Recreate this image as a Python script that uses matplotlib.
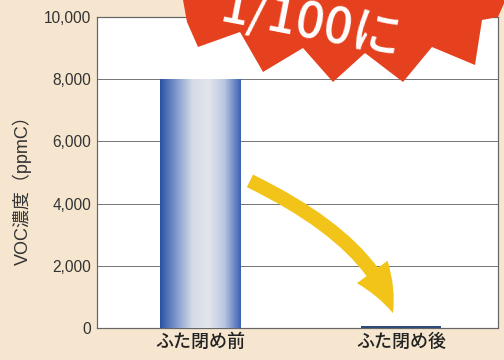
import numpy as np
import matplotlib.pyplot as plt
from matplotlib.patches import Polygon
from matplotlib.colors import LinearSegmentedColormap
from matplotlib.transforms import Affine2D

plt.rcParams['font.family'] = ['Noto Sans CJK JP', 'DejaVu Sans']

# data
categories = ['ふた閉め前', 'ふた閉め後']
voc_ppmc = [8000, 80]
yticks = [0, 2000, 4000, 6000, 8000, 10000]
ylabel = 'VOC濃度（ppmC）'
badge = '1/100に'

W, H = 504, 360
fig = plt.figure(figsize=(W / 72, H / 72), dpi=72, facecolor='#f6e6cf')
ax = fig.add_axes([97 / W, 32 / H, 401 / W, 311 / H])
ax.set_facecolor('white')

x = np.arange(len(categories))
bars = ax.bar(x, voc_ppmc, width=0.4, color='#2c4a7c', zorder=2)

# metallic gradient on the tall bar
cmap = LinearSegmentedColormap.from_list(
    'bar', ['#2a52a4', '#7f98cc', '#d4dae6', '#e4e6ec', '#b8c5e0', '#3a62b2'])
grad = np.linspace(0, 1, 256)[None, :]
b = bars[0]
x0, w, h = b.get_x(), b.get_width(), b.get_height()
im = ax.imshow(grad, cmap=cmap, extent=(x0, x0 + w, 0, h), aspect='auto', zorder=3)
im.set_clip_path(b)

ax.set_xlim(-0.512, 1.483)
ax.set_ylim(0, 10000)
ax.set_yticks(yticks)
ax.set_yticklabels([f'{v:,}' for v in yticks], fontfamily='Liberation Sans',
                   fontsize=15.5, color='#333333')
ax.set_xticks(x)
ax.set_xticklabels(categories, fontsize=18, color='#222222', fontweight='medium')
ax.tick_params(length=0)
ax.tick_params(axis='y', pad=6)
ax.tick_params(axis='x', pad=5)
ax.grid(axis='y', color='#777777', lw=1)
ax.set_axisbelow(True)
for s in ax.spines.values():
    s.set_color('#666666')
    s.set_linewidth(1.2)

# yellow arrow
ax.annotate('', xy=(0.96, 480), xytext=(0.249, 4730),
            arrowprops=dict(arrowstyle='simple,head_length=46,head_width=38,tail_width=14',
                            connectionstyle='angle3,angleA=-26,angleB=-74',
                            fc='#f2c318', ec='none', mutation_scale=1,
                            shrinkA=0, shrinkB=0),
            zorder=4)

fig.text(22 / W, 1 - 186 / H, ylabel, rotation=90, ha='center', va='center',
         fontsize=18, color='#333333',
         family=['Liberation Sans', 'Noto Sans CJK JP'])

# red starburst badge (pixel coords, origin top-left)
px = Affine2D().scale(1 / W, -1 / H).translate(0, 1) + fig.transFigure
burst = [(180, -10), (183, 0), (187, 22), (198, 47), (240, 32), (263, 72),
         (303, 48), (333, 82), (365, 53), (403, 82), (432, 47), (475, 65),
         (482, 20), (498, 17), (510, -10)]
fig.add_artist(Polygon(burst, closed=True, transform=px, fc='#e5411e',
                       ec='none', zorder=5))
fig.text(311, 24, badge, transform=px, rotation=-11, fontsize=50, color='white',
         fontweight='medium', ha='center', va='center', rotation_mode='anchor',
         zorder=6)

fig.savefig('out.png', dpi=72, facecolor=fig.get_facecolor())
